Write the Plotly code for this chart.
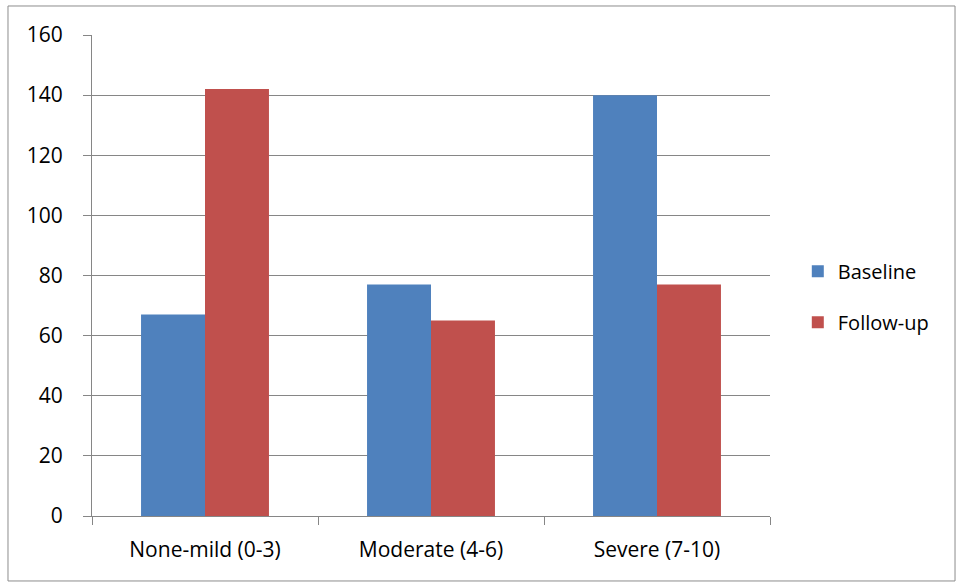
import plotly.graph_objects as go

# Pain severity groups and patient counts
categories = ["None-mild (0-3)", "Moderate (4-6)", "Severe (7-10)"]
baseline = [67, 77, 140]
follow_up = [142, 65, 77]
y_ticks = [0, 20, 40, 60, 80, 100, 120, 140, 160]

FONT = "'Open Sans', Lato, sans-serif"

fig = go.Figure()
fig.add_trace(go.Bar(name="Baseline", x=categories, y=baseline, legendgroup="b",
                     marker=dict(color="#4F81BD", line=dict(width=0))))
fig.add_trace(go.Bar(name="Follow-up", x=categories, y=follow_up, legendgroup="f",
                     marker=dict(color="#C0504D", line=dict(width=0))))

fig.update_layout(
    width=958, height=584,
    margin=dict(l=92, r=188, t=35, b=68),
    paper_bgcolor="white", plot_bgcolor="white",
    barmode="group", bargap=0.434, bargroupgap=0,
    font=dict(family=FONT, size=21, color="#000000"),
    legend=dict(x=1.041, y=0.456, xanchor="left", yanchor="middle",
                font=dict(size=20), tracegroupgap=22, traceorder="grouped",
                bgcolor="rgba(0,0,0,0)"),
    xaxis=dict(
        showline=True, linecolor="#868686", linewidth=1,
        ticks="outside", tickson="boundaries", ticklen=8, tickcolor="#868686",
        showgrid=False, tickfont=dict(size=21), ticklabelstandoff=15,
    ),
    yaxis=dict(
        range=[0, 160], tickvals=y_ticks,
        showline=True, linecolor="#868686", linewidth=1,
        ticks="outside", ticklen=8, tickcolor="#868686",
        showgrid=True, gridcolor="#868686", gridwidth=1,
        zeroline=False, tickfont=dict(size=21), ticklabelstandoff=16,
    ),
    shapes=[dict(
        type="rect", xref="paper", yref="paper",
        x0=-0.1239, x1=1.2729, y0=-0.1351, y1=1.0603,
        line=dict(color="#8C8C8C", width=1), fillcolor="rgba(0,0,0,0)",
        layer="below",
    )],
)

fig.write_html("out.html")
